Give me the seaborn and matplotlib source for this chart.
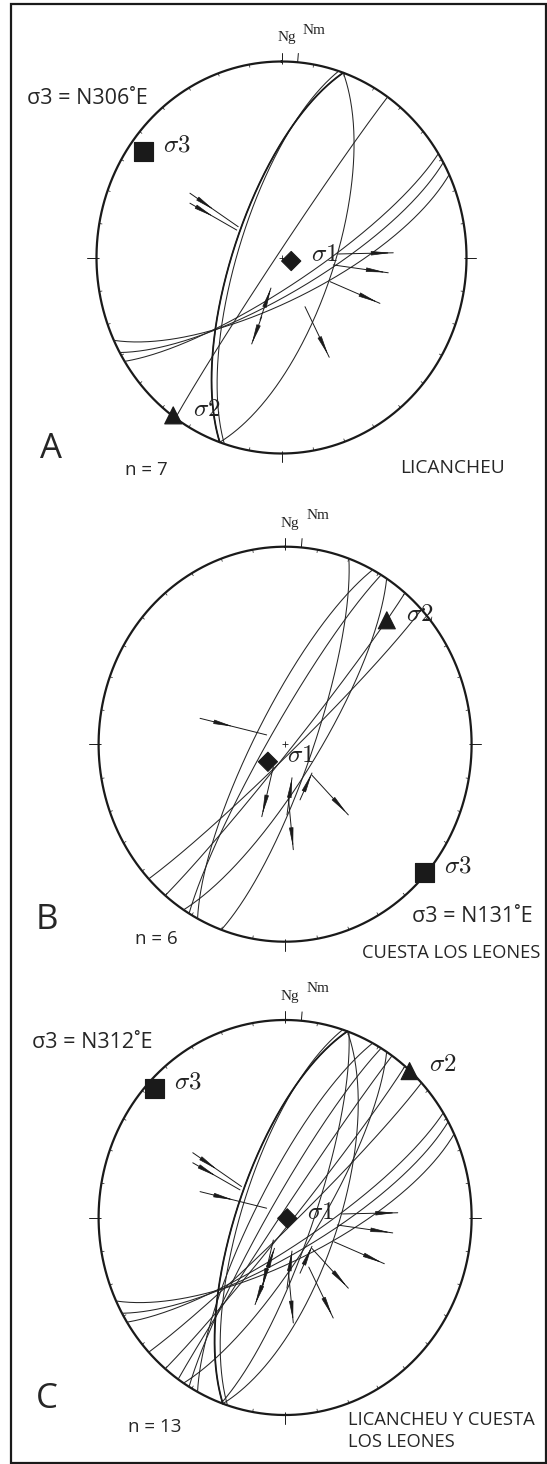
import numpy as np
import pandas as pd
import matplotlib
matplotlib.use("Agg")
import matplotlib.pyplot as plt
import seaborn as sns
from matplotlib.patches import Rectangle

# fault planes, strike (right-hand rule) and dip, degrees
lic_strike = [199.5, 198.0, 19.5, 215.0, 65.0, 61.0, 58.0]
lic_dip = [69, 71, 67, 88, 72, 75, 78]
leo_strike = [20.0, 208.0, 211.0, 33.0, 40.0, 47.0]
leo_dip = [78, 77, 83, 76, 87, 86]

# slip arrows on the net (unit radius): tail x/y, end x/y, where the head tip sits along the shaft
lic_x0 = [-0.495, -0.495, 0.307, 0.280, 0.262, 0.127, -0.116, -0.107]
lic_y0 = [0.328, 0.277, 0.018, -0.038, -0.123, -0.251, -0.319, -0.302]
lic_x1 = [-0.234, -0.242, 0.604, 0.577, 0.532, 0.258, -0.057, -0.161]
lic_y1 = [0.157, 0.140, 0.024, -0.078, -0.234, -0.509, -0.156, -0.441]
lic_head = [0.5, 0.5, 0.96, 0.96, 0.96, 0.96, 1.0, 1.0]

leo_x0 = [-0.456, -0.063, 0.017, 0.010, 0.080, 0.143]
leo_y0 = [0.131, -0.114, -0.266, -0.358, -0.282, -0.156]
leo_x1 = [-0.099, -0.125, 0.044, 0.037, 0.144, 0.339]
leo_y1 = [0.047, -0.367, -0.534, -0.170, -0.146, -0.358]
leo_head = [0.5, 0.96, 0.96, 1.0, 1.0, 0.96]

# principal stress axes sigma1, sigma2, sigma3 (trend, plunge)
sigma_names = ["σ1", "σ2", "σ3"]
a_trend = [109, 216, 306]
a_plunge = [85.5, 0.5, 8.8]
b_trend = [226, 41, 131]
b_plunge = [79.6, 18, 1]
c_trend = [110, 42, 313]
c_plunge = [89, 0.3, 4.5]

W, H = 547, 1464
sns.set_theme(style="white")
plt.rcParams["font.family"] = ["Open Sans", "DejaVu Sans"]
plt.rcParams["mathtext.fontset"] = "cm"

fig = plt.figure(figsize=(W / 100, H / 100), dpi=100)


def project(trend, plunge):
    t = np.radians(trend)
    r = np.sqrt(2) * np.sin(np.radians(90 - np.asarray(plunge)) / 2)
    return r * np.sin(t), r * np.cos(t)


def great_circle(strike, dip, n=200):
    s, d = np.radians(strike), np.radians(dip)
    rake = np.linspace(0, np.pi, n)
    sv = np.array([np.sin(s), np.cos(s), 0.0])
    dv = np.array([np.cos(d) * np.sin(s + np.pi / 2), np.cos(d) * np.cos(s + np.pi / 2), np.sin(d)])
    v = np.outer(np.cos(rake), sv) + np.outer(np.sin(rake), dv)
    trend = np.degrees(np.arctan2(v[:, 0], v[:, 1]))
    plunge = np.degrees(np.arcsin(np.clip(v[:, 2], -1, 1)))
    return project(trend, plunge)


def net_axes(cx, cy, rx, ry):
    ax = fig.add_axes([(cx - rx) / W, 1 - (cy + ry) / H, 2 * rx / W, 2 * ry / H])
    ax.set_xlim(-1, 1)
    ax.set_ylim(-1, 1)
    ax.axis("off")
    th = np.linspace(0, 2 * np.pi, 400)
    ax.plot(np.sin(th), np.cos(th), color="k", lw=1.6, clip_on=False)
    for az in range(0, 360, 10):
        a = np.radians(az)
        ax.plot([0.985 * np.sin(a), np.sin(a)], [0.985 * np.cos(a), np.cos(a)], color="k", lw=0.5, clip_on=False)
    for az in [0, 90, 180, 270]:
        a = np.radians(az)
        ax.plot([0.99 * np.sin(a), 1.05 * np.sin(a)], [0.99 * np.cos(a), 1.045 * np.cos(a)], color="k", lw=0.7, clip_on=False)
    a = np.radians(5)
    ax.plot([np.sin(a), 1.045 * np.sin(a)], [np.cos(a), 1.045 * np.cos(a)], color="k", lw=0.7, clip_on=False)
    ax.plot([0], [0], marker="+", color="k", ms=5, mew=0.6)
    ax.text(0.027, 1.12, "Ng", family="Liberation Serif", fontsize=11, ha="center", va="center")
    ax.text(0.175, 1.16, "Nm", family="Liberation Serif", fontsize=11, ha="center", va="center")
    return ax


def draw_planes(ax, strikes, dips, thick=None):
    rows = []
    for i, (s, d) in enumerate(zip(strikes, dips)):
        x, y = great_circle(s, d)
        rows.append(pd.DataFrame({"x": x, "y": y, "plane": i}))
    df = pd.concat(rows)
    sns.lineplot(data=df, x="x", y="y", units="plane", estimator=None, sort=False,
                 color="#262626", lw=0.75, ax=ax, legend=False)
    if thick is not None:
        x, y = great_circle(strikes[thick], dips[thick])
        ax.plot(x, y, color="k", lw=1.3)
    ax.set_xlim(-1, 1)
    ax.set_ylim(-1, 1)
    ax.axis("off")


def draw_arrows(ax, x0, y0, x1, y1, head):
    for a, b, c, d, f in zip(x0, y0, x1, y1, head):
        ax.plot([a, c], [b, d], color="#1a1a1a", lw=0.7)
        tx, ty = a + f * (c - a), b + f * (d - b)
        g = f - 0.3
        ax.annotate("", xy=(tx, ty), xytext=(a + g * (c - a), b + g * (d - b)),
                    arrowprops=dict(arrowstyle="-|>,head_length=1.0,head_width=0.11",
                                    color="k", lw=0.5, shrinkA=0, shrinkB=0))


def draw_sigmas(ax, trend, plunge):
    x, y = project(trend, plunge)
    df = pd.DataFrame({"x": x, "y": y, "axis": sigma_names})
    sns.scatterplot(data=df, x="x", y="y", style="axis", size="axis",
                    markers={"σ1": "D", "σ2": "^", "σ3": "s"},
                    sizes={"σ1": 95, "σ2": 150, "σ3": 185},
                    color="k", edgecolor="k", ax=ax, legend=False, clip_on=False, zorder=5)
    for xi, yi, k in zip(x, y, ["1", "2", "3"]):
        ax.annotate(r"$\sigma" + k + "$", (xi, yi), xytext=(14, 4.5), textcoords="offset points",
                    fontsize=18, ha="left", va="center", color="#222222")
    ax.set_xlim(-1, 1)
    ax.set_ylim(-1, 1)
    ax.axis("off")


def label(x, y, s, size=13.5, **kw):
    fig.text(x / W, 1 - y / H, s, fontsize=size, ha="left", va="center", **kw)


# A: Licancheu
ax = net_axes(281.5, 257.5, 185, 196)
draw_planes(ax, lic_strike, lic_dip, thick=0)
draw_arrows(ax, lic_x0, lic_y0, lic_x1, lic_y1, lic_head)
draw_sigmas(ax, a_trend, a_plunge)
label(27, 98, "σ3 = N306˚E", 15.5)
label(40, 449, "A", 25)
label(125, 470, "n = 7", 13.5)
label(400, 468, "LICANCHEU", 13.8)

# B: Cuesta Los Leones
ax = net_axes(285.1, 744.2, 186.5, 197.5)
draw_planes(ax, leo_strike, leo_dip)
draw_arrows(ax, leo_x0, leo_y0, leo_x1, leo_y1, leo_head)
draw_sigmas(ax, b_trend, b_plunge)
label(412, 917, "σ3 = N131˚E", 15.5)
label(36, 920, "B", 25)
label(135, 939, "n = 6", 13.5)
label(362, 953, "CUESTA LOS LEONES", 13.2)

# C: both sites together
ax = net_axes(285.1, 1217.5, 186.5, 197.5)
draw_planes(ax, lic_strike + leo_strike, lic_dip + leo_dip, thick=0)
draw_arrows(ax, lic_x0 + leo_x0, lic_y0 + leo_y0, lic_x1 + leo_x1, lic_y1 + leo_y1, lic_head + leo_head)
draw_sigmas(ax, c_trend, c_plunge)
label(32, 1043, "σ3 = N312˚E", 15.5)
label(36, 1399, "C", 25)
label(128, 1427, "n = 13", 13.5)
label(348, 1420, "LICANCHEU Y CUESTA", 13.2)
label(348, 1442, "LOS LEONES", 13.2)

fig.patches.append(Rectangle((11 / W, 1 / H), (W - 12) / W, (H - 5) / H, transform=fig.transFigure,
                             fill=False, edgecolor="k", lw=1.6))

fig.savefig("out.png", dpi=100)
